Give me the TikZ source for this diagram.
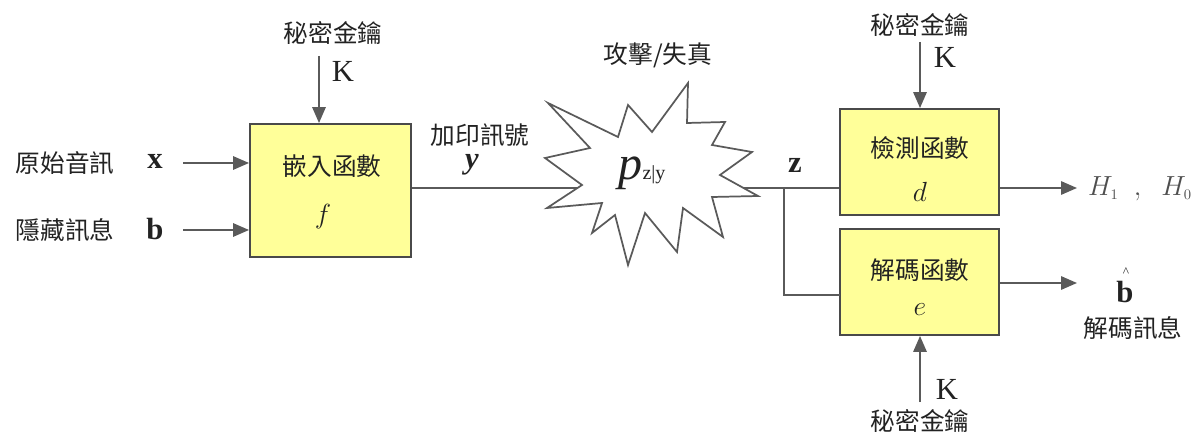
\documentclass[tikz,border=0pt]{standalone}
\usepackage{fontspec}
\setmainfont{Liberation Serif}
\newfontfamily\cjk{Noto Sans CJK TC}
\usetikzlibrary{arrows.meta}
\definecolor{boxfill}{HTML}{FFFF99}
\definecolor{linec}{HTML}{5A5A5A}
\definecolor{boxline}{HTML}{4A4A4A}
\definecolor{txt}{HTML}{222222}
\tikzset{
  blk/.style={draw=boxline, fill=boxfill, line width=1.4pt, minimum width=119.5pt, minimum height=79.5pt, inner sep=0pt},
  conn/.style={draw=linec, line width=1.5pt},
  arr/.style={conn, -{Triangle[length=12pt,width=10pt]}},
  cjklab/.style={text=txt, font=\cjk\fontsize{18.5}{20}\selectfont, inner sep=0pt},
  vec/.style={text=txt, font=\fontsize{23}{26}\selectfont\bfseries, inner sep=0pt},
  keylab/.style={text=txt, font=\fontsize{23}{26}\selectfont, inner sep=0pt},
  fn/.style={text=txt, font=\fontsize{21}{24}\selectfont, inner sep=0pt},
}
\begin{document}
\begin{tikzpicture}[x=0.75pt,y=-0.75pt]
\useasboundingbox (0,0) rectangle (1201,434);

% boxes
\node[blk, minimum width=120.75pt, minimum height=99.75pt] (f) at (330.5,190.5) {};
\node[blk] (d) at (919.5,162) {};
\node[blk] (e) at (919.5,282) {};

\node[cjklab] (ft) at (332,166) {嵌入函數};
\node[fn] (fs) at (323,217) {$f$};
\node[cjklab] (dt) at (920,148) {檢測函數};
\node[fn] (ds) at (920,192) {$d$};
\node[cjklab] (et) at (920,270) {解碼函數};
\node[fn] (es) at (920,310) {$e$};

% left inputs
\node[cjklab] (xl) at (65,163) {原始音訊};
\node[vec] (xv) at (155,161) {x};
\node[cjklab] (bl) at (65,230) {隱藏訊息};
\node[vec] (bv) at (155,229) {b};
\coordinate (xs) at (183,163);
\coordinate (bs) at (183,230);
\draw[arr] (xs) -- (f.west |- xs);
\draw[arr] (bs) -- (f.west |- bs);

% key into f
\node[cjklab] (k1l) at (333,33) {秘密金鑰};
\node[keylab] (k1) at (343,71) {K};
\coordinate (k1s) at (319,56);
\draw[arr] (k1s) -- (f.north -| k1s);

% star
\draw[draw=linec, line width=1.3pt, line join=miter, fill=white]
  (548,103) -- (618,137) -- (628,105) -- (652,132) -- (688,83) -- (687,123)
  -- (725,122) -- (712,145) -- (752,152) -- (720,175) -- (758,196) -- (712,197)
  -- (723,237) -- (683,208) -- (677,252) -- (645,213) -- (628,265) -- (615,215)
  -- (592,233) -- (602,203) -- (547,208) -- (582,185) -- (545,158) -- (590,148) -- cycle;
\node[text=txt, inner sep=0pt, anchor=base] (pz) at (642,180) {\fontsize{36}{38}\selectfont\textit{p}\fontsize{15}{16}\selectfont z|y};
\node[cjklab] (atk) at (658,55) {攻擊/失真};
\coordinate (starL) at (577,188);
\coordinate (starR) at (743,188);

% y line
\node[cjklab] (yl) at (480,135) {加印訊號};
\node[vec] (yv) at (472,165) {\textit{y}};
\draw[conn] (f.east |- starL) -- (starL);

% z lines
\node[vec] (zv) at (795,165) {z};
\coordinate (br) at (784,188);
\coordinate (ein) at (840,295);
\draw[conn] (starR) -- (d.west |- starR);
\draw[conn] (br) |- (ein);

% key into d
\node[cjklab] (k2l) at (920,25) {秘密金鑰};
\node[keylab] (k2) at (945,57) {K};
\coordinate (k2s) at (920,42);
\draw[arr] (k2s) -- (d.north -| k2s);

% key into e
\node[cjklab] (k3l) at (920,421) {秘密金鑰};
\node[keylab] (k3) at (947,389) {K};
\coordinate (k3s) at (920,402);
\draw[arr] (k3s) -- (e.south -| k3s);

% outputs
\coordinate (hout) at (1077,188);
\coordinate (bout) at (1077,283);
\draw[arr] (d.east |- hout) -- (hout);
\draw[arr] (e.east |- bout) -- (bout);
\node[text=txt!80, inner sep=0pt] (hh) at (1140,189) {\fontsize{21}{24}\selectfont$H_{\scriptscriptstyle 1}\;\;,\;\;H_{\scriptscriptstyle 0}$};
\node[vec] (bh) at (1125,292) {b};
\node[text=txt, inner sep=0pt, font=\fontsize{10}{12}\selectfont] (hat) at (1126,272) {\textasciicircum};
\node[cjklab] (bhl) at (1133,328) {解碼訊息};
\end{tikzpicture}
\end{document}
